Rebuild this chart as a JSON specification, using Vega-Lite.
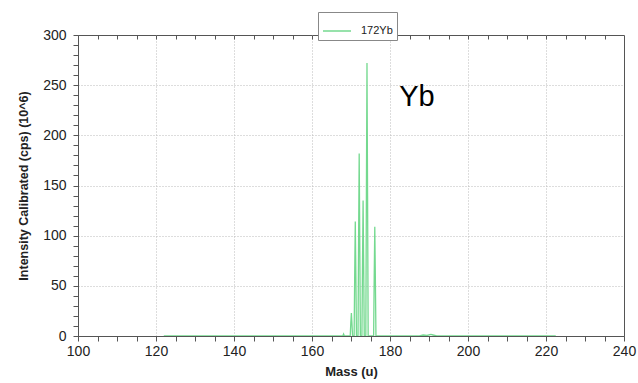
{
  "$schema": "https://vega.github.io/schema/vega-lite/v6.json",
  "width": 546,
  "height": 301,
  "autosize": {"type": "none"},
  "padding": {"left": 78, "top": 35, "right": 14, "bottom": 47},
  "background": "white",
  "config": {
    "view": {"stroke": "#555", "strokeWidth": 1},
    "font": "Liberation Sans",
    "axis": {
      "labelFont": "Liberation Sans",
      "titleFont": "Liberation Sans",
      "labelColor": "#222",
      "titleColor": "#222",
      "domainColor": "#555",
      "tickColor": "#555",
      "gridColor": "#bbb",
      "gridDash": [1, 2],
      "labelFlush": false,
      "labelOverlap": false
    }
  },
  "resolve": {"axis": {"x": "independent", "y": "independent"}},
  "layer": [
    {
      "data": {
        "values": [
          {"mass": 122.0, "intensity": 0, "series": "172Yb"},
          {"mass": 167.9, "intensity": 0, "series": "172Yb"},
          {"mass": 168.1, "intensity": 2, "series": "172Yb"},
          {"mass": 168.3, "intensity": 0, "series": "172Yb"},
          {"mass": 169.8, "intensity": 0, "series": "172Yb"},
          {"mass": 169.95, "intensity": 13, "series": "172Yb"},
          {"mass": 170.1, "intensity": 23, "series": "172Yb"},
          {"mass": 170.25, "intensity": 12, "series": "172Yb"},
          {"mass": 170.4, "intensity": 0, "series": "172Yb"},
          {"mass": 170.8, "intensity": 0, "series": "172Yb"},
          {"mass": 170.95, "intensity": 62, "series": "172Yb"},
          {"mass": 171.1, "intensity": 114, "series": "172Yb"},
          {"mass": 171.25, "intensity": 60, "series": "172Yb"},
          {"mass": 171.4, "intensity": 0, "series": "172Yb"},
          {"mass": 171.8, "intensity": 0, "series": "172Yb"},
          {"mass": 171.95, "intensity": 97, "series": "172Yb"},
          {"mass": 172.1, "intensity": 182, "series": "172Yb"},
          {"mass": 172.25, "intensity": 95, "series": "172Yb"},
          {"mass": 172.4, "intensity": 0, "series": "172Yb"},
          {"mass": 172.8, "intensity": 0, "series": "172Yb"},
          {"mass": 172.95, "intensity": 72, "series": "172Yb"},
          {"mass": 173.1, "intensity": 135, "series": "172Yb"},
          {"mass": 173.25, "intensity": 70, "series": "172Yb"},
          {"mass": 173.4, "intensity": 0, "series": "172Yb"},
          {"mass": 173.8, "intensity": 0, "series": "172Yb"},
          {"mass": 173.95, "intensity": 142, "series": "172Yb"},
          {"mass": 174.1, "intensity": 272, "series": "172Yb"},
          {"mass": 174.25, "intensity": 140, "series": "172Yb"},
          {"mass": 174.4, "intensity": 0, "series": "172Yb"},
          {"mass": 175.8, "intensity": 0, "series": "172Yb"},
          {"mass": 175.95, "intensity": 58, "series": "172Yb"},
          {"mass": 176.1, "intensity": 109, "series": "172Yb"},
          {"mass": 176.25, "intensity": 56, "series": "172Yb"},
          {"mass": 176.4, "intensity": 0, "series": "172Yb"},
          {"mass": 187.5, "intensity": 0, "series": "172Yb"},
          {"mass": 188.5, "intensity": 1, "series": "172Yb"},
          {"mass": 189.5, "intensity": 0.5, "series": "172Yb"},
          {"mass": 190.5, "intensity": 1.5, "series": "172Yb"},
          {"mass": 191.0, "intensity": 1, "series": "172Yb"},
          {"mass": 192.0, "intensity": 0, "series": "172Yb"},
          {"mass": 222.5, "intensity": 0, "series": "172Yb"}
        ]
      },
      "mark": {"type": "line", "strokeWidth": 1.3, "clip": true},
      "encoding": {
        "x": {
          "field": "mass",
          "type": "quantitative",
          "scale": {"domain": [100, 240], "nice": false, "zero": false},
          "axis": {
            "orient": "bottom",
            "title": "Mass (u)",
            "titleFontSize": 13,
            "titleFontWeight": "bold",
            "titlePadding": 7,
            "labelFontSize": 14,
            "labelPadding": 3,
            "tickSize": 5,
            "values": [100,105,110,115,120,125,130,135,140,145,150,155,160,165,170,175,180,185,190,195,200,205,210,215,220,225,230,235,240],
            "labelExpr": "datum.value % 20 === 0 ? datum.label : ''",
            "grid": true,
            "gridOpacity": {"condition": {"test": "datum.value % 20 === 0 && datum.value > 100 && datum.value < 240", "value": 1}, "value": 0}
          }
        },
        "y": {
          "field": "intensity",
          "type": "quantitative",
          "scale": {"domain": [0, 300], "nice": false},
          "axis": {
            "orient": "left",
            "title": "Intensity Calibrated (cps) (10^6)",
            "titleFontSize": 12.5,
            "titleFontWeight": "bold",
            "titlePadding": 12,
            "labelFontSize": 14,
            "labelPadding": 7,
            "tickSize": 5,
            "values": [0,10,20,30,40,50,60,70,80,90,100,110,120,130,140,150,160,170,180,190,200,210,220,230,240,250,260,270,280,290,300],
            "labelExpr": "datum.value % 50 === 0 ? datum.label : ''",
            "grid": true,
            "gridOpacity": {"condition": {"test": "datum.value % 50 === 0 && datum.value > 0 && datum.value < 300", "value": 1}, "value": 0}
          }
        },
        "color": {
          "field": "series",
          "type": "nominal",
          "scale": {"range": ["#74d98f"]},
          "legend": {
            "orient": "none",
            "legendX": 240,
            "legendY": -23,
            "title": null,
            "strokeColor": "#888",
            "fillColor": "white",
            "padding": 4,
            "symbolType": "stroke",
            "symbolSize": 784,
            "symbolStrokeWidth": 1.5,
            "labelFont": "Liberation Sans",
            "labelFontSize": 11,
            "labelColor": "#222",
            "labelOffset": 9
          }
        }
      }
    },
    {
      "data": {"values": [{"mass": 186.9, "intensity": 238, "label": "Yb"}]},
      "mark": {"type": "text", "font": "Liberation Sans", "fontSize": 29, "color": "black", "align": "center", "baseline": "middle"},
      "encoding": {
        "x": {
          "field": "mass",
          "type": "quantitative",
          "axis": {
            "orient": "top",
            "title": null,
            "labels": false,
            "domain": false,
            "grid": false,
            "tickSize": -4,
            "tickColor": "#555",
            "values": [105,110,115,120,125,130,135,140,145,150,155,160,165,170,175,180,185,190,195,200,205,210,215,220,225,230,235]
          }
        },
        "y": {"field": "intensity", "type": "quantitative", "axis": null},
        "text": {"field": "label"}
      }
    }
  ]
}
